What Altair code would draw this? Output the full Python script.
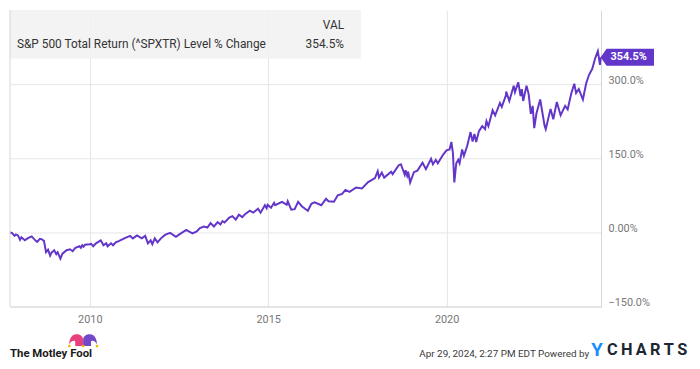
import altair as alt
import pandas as pd

# ---------------- data ----------------
dates = [
    "2007-10-09", "2007-10-26", "2007-11-23", "2007-12-07", "2007-12-28",
    "2008-01-18", "2008-02-01", "2008-03-07", "2008-04-04", "2008-05-16",
    "2008-06-27", "2008-07-11", "2008-08-08", "2008-08-29", "2008-09-19",
    "2008-10-10", "2008-10-31", "2008-11-21", "2008-12-05", "2009-01-02",
    "2009-01-23", "2009-02-06", "2009-03-06", "2009-03-27", "2009-05-08",
    "2009-06-12", "2009-07-10", "2009-08-07", "2009-09-18", "2009-10-02",
    "2009-10-16", "2009-10-30", "2009-11-13", "2009-12-31", "2010-01-15",
    "2010-02-05", "2010-03-05", "2010-04-23", "2010-05-21", "2010-06-18",
    "2010-07-02", "2010-08-06", "2010-08-27", "2010-09-24", "2010-10-29",
    "2010-12-31", "2011-02-18", "2011-03-18", "2011-04-29", "2011-06-17",
    "2011-07-22", "2011-08-19", "2011-09-16", "2011-10-03", "2011-10-28",
    "2011-11-25", "2011-12-30", "2012-02-10", "2012-04-02", "2012-06-01",
    "2012-07-06", "2012-09-14", "2012-11-16", "2012-12-31", "2013-02-01",
    "2013-03-15", "2013-04-19", "2013-05-21", "2013-06-24", "2013-08-02",
    "2013-08-30", "2013-09-20", "2013-10-11", "2013-11-29", "2013-12-31",
    "2014-02-03", "2014-03-07", "2014-04-11", "2014-05-09", "2014-06-27",
    "2014-08-01", "2014-09-19", "2014-10-15", "2014-11-28", "2014-12-16",
    "2014-12-26", "2015-01-30", "2015-03-02", "2015-03-13", "2015-05-22",
    "2015-07-10", "2015-07-20", "2015-08-25", "2015-09-29", "2015-11-03",
    "2015-12-11", "2016-01-20", "2016-02-11", "2016-03-18", "2016-04-20",
    "2016-06-27", "2016-08-15", "2016-09-09", "2016-11-04", "2016-12-13",
    "2017-01-27", "2017-03-01", "2017-04-13", "2017-06-19", "2017-08-18",
    "2017-10-20", "2017-12-29", "2018-01-26", "2018-02-08", "2018-03-09",
    "2018-04-02", "2018-06-12", "2018-06-28", "2018-08-29", "2018-09-20",
    "2018-10-29", "2018-11-07", "2018-11-23", "2018-12-03", "2018-12-24",
    "2019-01-31", "2019-03-08", "2019-04-30", "2019-06-03", "2019-07-26",
    "2019-08-14", "2019-09-12", "2019-10-03", "2019-11-29", "2019-12-31",
    "2020-01-31", "2020-02-19", "2020-03-06", "2020-03-20", "2020-04-09",
    "2020-04-29", "2020-05-13", "2020-06-08", "2020-06-26", "2020-07-31",
    "2020-09-02", "2020-09-23", "2020-10-12", "2020-10-30", "2020-11-27",
    "2020-12-31", "2021-01-29", "2021-02-12", "2021-03-04", "2021-04-16",
    "2021-05-12", "2021-06-30", "2021-07-19", "2021-08-31", "2021-09-02",
    "2021-10-04", "2021-11-18", "2021-12-01", "2022-01-03", "2022-01-27",
    "2022-02-09", "2022-02-23", "2022-03-29", "2022-04-20", "2022-05-12",
    "2022-05-31", "2022-06-16", "2022-07-08", "2022-08-16", "2022-09-30",
    "2022-10-12", "2022-11-30", "2022-12-28", "2023-02-02", "2023-03-13",
    "2023-04-28", "2023-05-24", "2023-06-30", "2023-07-31", "2023-08-18",
    "2023-09-15", "2023-10-27", "2023-11-30", "2023-12-29", "2024-01-31",
    "2024-02-29", "2024-03-28", "2024-04-19", "2024-04-26",
]
pct_change = [
    0, -1, -7, -4, -6,
    -15, -10, -16, -12, -8,
    -17, -19, -13, -14, -17,
    -40, -35, -47, -41, -36,
    -44, -40, -53, -43, -36,
    -34, -38, -31, -28, -31,
    -26, -29, -25, -24, -23,
    -28, -22, -16, -26, -22,
    -28, -22, -26, -20, -17,
    -11, -7, -12, -6, -12,
    -7, -22, -16, -24, -12,
    -20, -12, -5, -1, -9,
    -4, 5, -2, 2, 9,
    12, 10, 19, 12, 21,
    16, 23, 20, 30, 33,
    26, 36, 31, 37, 44,
    40, 48, 40, 55, 49,
    56, 50, 60, 55, 62,
    56, 63, 46, 47, 62,
    53, 47, 44, 58, 61,
    55, 68, 63, 62, 75,
    78, 86, 82, 91, 89,
    102, 110, 124, 111, 121,
    111, 123, 118, 136, 138,
    117, 126, 115, 123, 101,
    122, 125, 141, 128, 149,
    138, 147, 140, 158, 166,
    168, 183, 160, 101, 140,
    147, 140, 168, 155, 176,
    203, 184, 199, 183, 205,
    215, 209, 225, 215, 247,
    237, 262, 254, 278, 285,
    266, 297, 284, 304, 276,
    290, 266, 297, 280, 240,
    256, 211, 240, 269, 216,
    209, 250, 229, 264, 237,
    256, 249, 281, 301, 282,
    290, 269, 302, 319, 331,
    352, 367, 339, 354.5,
]
y_ticks = [-150, 0, 150, 300]
x_tick_years = [2010, 2015, 2020]
series_name = "S&P 500 Total Return (^SPXTR) Level % Change"
col_header = "VAL"
last_label = "354.5%"
footer_stamp = "Apr 29, 2024, 2:27 PM EDT Powered by"

PURPLE = "#6236c9"
W, H = 598, 300

df = pd.DataFrame({"date": [d + "T00:00:00" for d in dates], "pct": pct_change})
last = df.iloc[[-1]].reset_index(drop=True)
one = pd.DataFrame({"k": [0]})

x_enc = alt.X(
    "date:T",
    scale=alt.Scale(domain=[alt.DateTime(year=2007, month=10, date=7),
                            alt.DateTime(year=2024, month=4, date=30)]),
    axis=alt.Axis(
        values=[alt.DateTime(year=y, month=1, date=1) for y in x_tick_years],
        format="%Y", title=None, grid=True, ticks=False, labelPadding=7,
        labelBaseline="top", domainColor="#d6d6d6", gridColor="#e6e6e6",
    ),
)
y_enc = alt.Y(
    "pct:Q",
    scale=alt.Scale(domain=[-150, 450], nice=False, zero=False),
    axis=alt.Axis(
        orient="right", values=y_ticks, title=None, ticks=False, labelPadding=7,
        labelBaseline="alphabetic", labelOffset=-1,
        labelExpr="datum.value == 0 ? '0.00%' : format(datum.value, '.1f') + '%'",
        domainColor="#d6d6d6", gridColor="#e6e6e6",
    ),
)

line = alt.Chart(df).mark_line(color=PURPLE, strokeWidth=2).encode(x=x_enc, y=y_enc)

legend_box = alt.Chart(one).mark_rect(fill="#f1f1f1", opacity=0.85).encode(
    x=alt.value(0), x2=alt.value(355), y=alt.value(0), y2=alt.value(49)
)
legend_name = alt.Chart(one).mark_text(
    align="left", baseline="middle", font="Roboto", fontSize=12, color="#333333"
).encode(x=alt.value(7), y=alt.value(34), text=alt.value(series_name))
legend_head = alt.Chart(one).mark_text(
    align="right", baseline="middle", font="Roboto", fontSize=12, color="#333333"
).encode(x=alt.value(338), y=alt.value(15), text=alt.value(col_header))
legend_val = alt.Chart(one).mark_text(
    align="right", baseline="middle", font="Roboto", fontSize=12, color="#333333"
).encode(x=alt.value(338), y=alt.value(34), text=alt.value(last_label))

left_border = alt.Chart(one).mark_rule(color="#d6d6d6", strokeWidth=1).encode(
    x=alt.value(0), y=alt.value(0), y2=alt.value(H)
)

tag = alt.Chart(last).mark_point(
    shape="M0,0L0.7,-1L6.35,-1L6.35,1L0.7,1Z", size=289, filled=True,
    color=PURPLE, opacity=1, strokeWidth=0,
).encode(x="date:T", y="pct:Q")
tag_text = alt.Chart(last).mark_text(
    align="left", baseline="middle", dx=10, font="Roboto", fontSize=11,
    fontWeight="bold", color="white",
).encode(x="date:T", y="pct:Q", text=alt.value(last_label))

fool_text = alt.Chart(one).mark_text(
    align="left", baseline="middle", font="Roboto", fontSize=11.5,
    fontWeight="bold", color="#1a1a1a",
).encode(x=alt.value(0), y=alt.value(348), text=alt.value("The Motley Fool"))
hat_pink = alt.Chart(one).mark_point(
    shape="M0,0L0,-6C0,-10,-3,-12,-7,-12C-11,-12,-14,-8,-14,-2C-12,-5,-10,-6,-8,-5L-8,0Z",
    size=4, filled=True, color="#e8407f", opacity=1, strokeWidth=0,
).encode(x=alt.value(74), y=alt.value(340))
hat_purple = alt.Chart(one).mark_point(
    shape="M0,0L0,-6C0,-10,3,-12,7,-12C11,-12,14,-8,14,-2C12,-5,10,-6,8,-5L8,0Z",
    size=4, filled=True, color="#7446c8", opacity=1, strokeWidth=0,
).encode(x=alt.value(74), y=alt.value(340))
hat_dots = alt.Chart(pd.DataFrame({"px": [60, 74, 88]})).mark_circle(
    size=7, color="#f5b800", opacity=1
).encode(x=alt.X("px:Q", scale=None), y=alt.value(340))

stamp = alt.Chart(one).mark_text(
    align="right", baseline="middle", font="Roboto",
    fontSize=10, color="#3a3a3a",
).encode(x=alt.value(586), y=alt.value(348), text=alt.value(footer_stamp))
ylogo = alt.Chart(one).mark_text(
    align="left", baseline="middle", font="Roboto", fontSize=19,
    fontWeight="bold", color="#1a8cff",
).encode(x=alt.value(588), y=alt.value(344), text=alt.value("Y"))
clogo = alt.Chart(one).mark_text(
    align="left", baseline="middle", font="Roboto", fontSize=16.5,
    fontWeight="bold", color="#1d2733",
).encode(x=alt.value(604), y=alt.value(344),
         text=alt.value("C\u2009H\u2009A\u2009R\u2009T\u2009S"))

chart = alt.layer(
    legend_box, line, left_border, tag, tag_text,
    legend_name, legend_head, legend_val,
    fool_text, hat_pink, hat_purple, hat_dots, stamp, ylogo, clogo,
).properties(
    width=W, height=H,
    autosize=alt.AutoSizeParams(type="none"),
    padding={"left": 2, "top": 0, "right": 92, "bottom": 52},
).configure_view(stroke=None).configure_axis(
    labelFont="Roboto", labelFontSize=11, labelColor="#777777",
)

chart.save("out.html", embed_options={"renderer": "svg", "actions": False})
